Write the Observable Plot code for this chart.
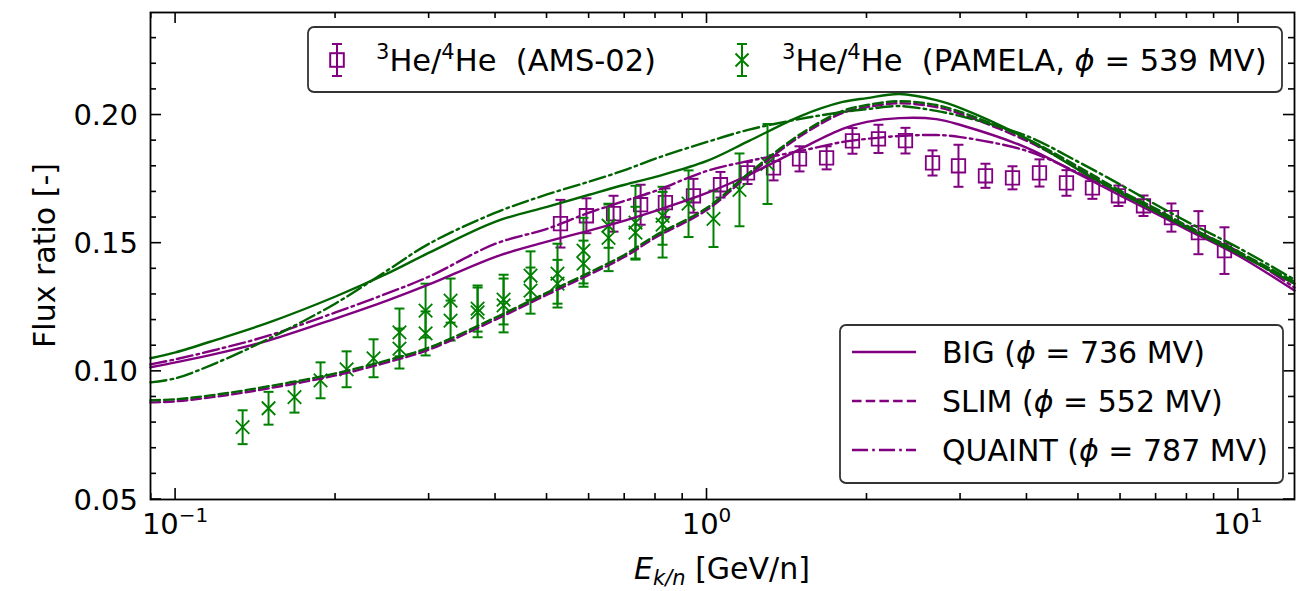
<!DOCTYPE html>
<html><head><meta charset="utf-8">
<script src="https://cdn.jsdelivr.net/npm/d3@7"></script>
<script src="https://cdn.jsdelivr.net/npm/@observablehq/plot@0.6"></script>
<style>body{margin:0;background:#fff} svg{display:block}</style>
</head><body><div id="chart"></div>
<script>
// ---- data ----
const amsE = [0.530, 0.593, 0.667, 0.750, 0.835, 0.943, 1.060, 1.192, 1.334, 1.493, 1.679, 1.878, 2.102, 2.363, 2.657, 2.973, 3.342, 3.757, 4.223, 4.747, 5.312, 5.946, 6.627, 7.481, 8.408, 9.413];
const amsR = [0.1576, 0.1607, 0.1615, 0.1650, 0.1658, 0.1685, 0.1728, 0.1774, 0.1794, 0.1829, 0.1833, 0.1899, 0.1907, 0.1900, 0.1813, 0.1802, 0.1763, 0.1755, 0.1774, 0.1735, 0.1716, 0.1685, 0.1646, 0.1600, 0.1541, 0.1471];
const amsErr = [0.0093, 0.0068, 0.0070, 0.0078, 0.0056, 0.0066, 0.0050, 0.0043, 0.0049, 0.0049, 0.0045, 0.0050, 0.0055, 0.0050, 0.0049, 0.0082, 0.0047, 0.0045, 0.0053, 0.0050, 0.0043, 0.0040, 0.0040, 0.0055, 0.0084, 0.0091];

const pamE = [0.1337,0.1496,0.1674,0.1874,0.2098,0.2358,0.2638,0.2638,0.2954,0.2954,0.3292,0.3292,0.3701,0.3701,0.4142,0.4142,0.4655,0.4655,0.5232,0.5232,0.5856,0.5856,0.6528,0.6528,0.7335,0.7335,0.8249,0.8249,0.9231,1.0285,1.1511,1.2997];
const pamR = [0.0782,0.0856,0.0899,0.0965,0.1008,0.1051,0.1152,0.1089,0.1237,0.1148,0.1276,0.1198,0.1245,0.1230,0.1280,0.1257,0.1373,0.1315,0.1381,0.1342,0.1471,0.1420,0.1568,0.1521,0.1580,0.1541,0.1607,0.1572,0.1654,0.1595,0.1708,0.1809];
const pamErr = [0.0066,0.0064,0.0060,0.0070,0.0070,0.0074,0.0093,0.0078,0.0105,0.0086,0.0086,0.0078,0.0090,0.0097,0.0097,0.0105,0.0095,0.0090,0.0117,0.0093,0.0128,0.0090,0.0086,0.0130,0.0144,0.0101,0.0113,0.0128,0.0130,0.0110,0.0142,0.0156];

const modelE = [0.0897,0.1,0.12,0.15,0.2,0.25,0.3,0.4,0.5,0.6,0.7,0.8,1.0,1.2,1.5,1.8,2.0,2.3,2.7,3.0,4.0,5.0,6.0,7.0,8.0,10,12.75];
const bigAms    = [0.1016,0.1035,0.1070,0.1121,0.1206,0.1276,0.1339,0.1447,0.1506,0.1549,0.1588,0.1626,0.1696,0.1767,0.1868,0.1946,0.1973,0.1988,0.1984,0.1961,0.1872,0.1770,0.1685,0.1615,0.1553,0.1451,0.1315];
const slimAms   = [0.0879,0.0883,0.0902,0.0934,0.0984,0.1035,0.1085,0.1202,0.1299,0.1377,0.1447,0.1522,0.1630,0.1766,0.1918,0.2008,0.2031,0.2046,0.2031,0.2004,0.1899,0.1790,0.1696,0.1626,0.1560,0.1459,0.1342];
const quaintAms = [0.1027,0.1047,0.1086,0.1140,0.1230,0.1304,0.1370,0.1498,0.1556,0.1619,0.1665,0.1704,0.1782,0.1821,0.1860,0.1895,0.1907,0.1918,0.1922,0.1914,0.1860,0.1774,0.1696,0.1626,0.1564,0.1467,0.1327];
const bigPam    = [0.1051,0.1074,0.1125,0.1191,0.1292,0.1381,0.1463,0.1584,0.1642,0.1689,0.1728,0.1759,0.1821,0.1899,0.1996,0.2051,0.2066,0.2082,0.2058,0.2027,0.1907,0.1786,0.1696,0.1623,0.1560,0.1459,0.1342];
const slimPam   = [0.0887,0.0891,0.0910,0.0942,0.0992,0.1043,0.1093,0.1210,0.1307,0.1385,0.1455,0.1530,0.1638,0.1774,0.1926,0.2016,0.2039,0.2054,0.2039,0.2012,0.1907,0.1798,0.1704,0.1634,0.1568,0.1467,0.1350];
const quaintPam = [0.0957,0.0973,0.1035,0.1128,0.1265,0.1393,0.1498,0.1619,0.1690,0.1740,0.1785,0.1830,0.1895,0.1943,0.1985,0.2012,0.2023,0.2035,0.2016,0.1996,0.1918,0.1817,0.1728,0.1650,0.1584,0.1482,0.1358];

const yTicks = [0.05, 0.10, 0.15, 0.20];
const yTickLabels = ["0.05", "0.10", "0.15", "0.20"];
const xTicks = [0.1, 1, 10];
const xTickExp = ["\u22121", "0", "1"];
const legendData = ["AMS-02", "PAMELA, "];
const modelNames = ["BIG", "SLIM", "QUAINT"];
const modelPhi = ["736", "552", "787"];

// ---- styles ----
const PURPLE = "#800080", GREEN = "#008000", DKGREEN = "#006400";
const DASH = "9.5,4.2", DASHDOT = "16,4.2,2.6,4.2";
const LW = 2.4;
const FONT = "DejaVu Sans";

const ams = amsE.map((E, i) => ({E, r: amsR[i], e: amsErr[i]}));
const pam = pamE.map((E, i) => ({E, r: pamR[i], e: pamErr[i]}));
const rows = v => modelE.map((E, i) => ({E, r: v[i]}));
const cap = {draw(ctx, size) { const w = Math.sqrt(size / Math.PI); ctx.moveTo(-w, 0); ctx.lineTo(w, 0); }};

function errMarks(data, color, symbol, r) {
  return [
    Plot.ruleX(data, {x: "E", y1: d => d.r - d.e, y2: d => d.r + d.e, stroke: color, strokeWidth: 2}),
    Plot.dot(data, {x: "E", y: d => d.r + d.e, symbol: cap, r: 5, stroke: color, strokeWidth: 2, fill: "none"}),
    Plot.dot(data, {x: "E", y: d => d.r - d.e, symbol: cap, r: 5, stroke: color, strokeWidth: 2, fill: "none"}),
    Plot.dot(data, {x: "E", y: "r", symbol, r, stroke: color, strokeWidth: 1.8, fill: "none"})
  ];
}
const ln = (v, color, dash) => Plot.line(rows(v), {x: "E", y: "r", stroke: color, strokeWidth: LW, strokeDasharray: dash, curve: "catmull-rom"});

const plot = Plot.plot({
  width: 1306, height: 591,
  marginLeft: 150, marginRight: 12, marginTop: 12, marginBottom: 92,
  x: {type: "log", domain: [0.0897, 12.75], axis: null},
  y: {domain: [0.05, 0.24], axis: null},
  marks: [
    ...errMarks(ams, PURPLE, "square", 7.6),
    ...errMarks(pam, GREEN, "times", 6.2),
    ln(bigAms, PURPLE, null),
    ln(slimAms, PURPLE, DASH),
    ln(quaintAms, PURPLE, DASHDOT),
    ln(bigPam, DKGREEN, null),
    ln(slimPam, DKGREEN, DASH),
    ln(quaintPam, DKGREEN, DASHDOT),
    Plot.frame({stroke: "black", strokeWidth: 1.8})
  ]
});
document.getElementById("chart").appendChild(plot);

// ---- axes, ticks, labels, legends ----
const sx = plot.scale("x"), sy = plot.scale("y");
const X = v => sx.apply(v), Y = v => sy.apply(v);
const [x0, x1] = sx.range, [y0, y1] = sy.range; // y0 bottom, y1 top
const svg = d3.select(plot);
const g = svg.append("g").attr("stroke", "black").attr("stroke-width", 1.6);
const tick = (xa, ya, xb, yb) => g.append("line").attr("x1", xa).attr("y1", ya).attr("x2", xb).attr("y2", yb);
const MAJ = 11, MIN = 6;
for (let k = 5; k <= 23; k++) {
  const v = k / 100, len = (k % 5 === 0) ? MAJ : MIN, yy = Y(v);
  tick(x0, yy, x0 + len, yy); tick(x1, yy, x1 - len, yy);
}
for (const dec of [0.01, 0.1, 1, 10]) {
  for (let m = 1; m <= 9; m++) {
    const v = dec * m;
    if (v < 0.0897 || v > 12.75) continue;
    const len = m === 1 ? MAJ : MIN, xx = X(v);
    tick(xx, y0, xx, y0 - len); tick(xx, y1, xx, y1 + len);
  }
}
const txt = (x, y) => svg.append("text").attr("x", x).attr("y", y).attr("text-anchor", "start")
  .attr("font-family", FONT).attr("font-size", 29).attr("fill", "black").style("white-space", "pre");
yTicks.forEach((v, i) => txt(x0 - 12, Y(v) + 10.5).attr("text-anchor", "end").text(yTickLabels[i]));
xTicks.forEach((v, i) => {
  const t = txt(X(v), 534).attr("text-anchor", "middle");
  t.append("tspan").text("10");
  t.append("tspan").attr("font-size", 20).attr("dy", -12).text(xTickExp[i]);
});
svg.append("text").attr("transform", `translate(55,${(y0 + y1) / 2}) rotate(-90)`).attr("text-anchor", "middle")
  .attr("font-family", FONT).attr("font-size", 30).text("Flux ratio [-]");
{
  const t = txt((x0 + x1) / 2, 579).attr("text-anchor", "middle").attr("font-size", 30);
  t.append("tspan").attr("font-style", "italic").text("E");
  t.append("tspan").attr("font-style", "italic").attr("font-size", 21).attr("dy", 6).text("k/n");
  t.append("tspan").attr("dy", -6).text(" [GeV/n]");
}
// legend 1 (data)
svg.append("rect").attr("x", 308).attr("y", 27).attr("width", 974).attr("height", 65).attr("rx", 6)
  .attr("fill", "white").attr("fill-opacity", 0.85).attr("stroke", "#333").attr("stroke-width", 1.8);
function legMarker(cx, cy, color, kind) {
  const lg = svg.append("g").attr("stroke", color).attr("stroke-width", 2).attr("fill", "none");
  lg.append("line").attr("x1", cx).attr("x2", cx).attr("y1", cy - 16).attr("y2", cy + 16);
  lg.append("line").attr("x1", cx - 5).attr("x2", cx + 5).attr("y1", cy - 16).attr("y2", cy - 16);
  lg.append("line").attr("x1", cx - 5).attr("x2", cx + 5).attr("y1", cy + 16).attr("y2", cy + 16);
  if (kind === "square") lg.append("rect").attr("x", cx - 6.8).attr("y", cy - 6.8).attr("width", 13.6).attr("height", 13.6);
  else lg.append("path").attr("d", `M${cx-6.5},${cy-6.5}L${cx+6.5},${cy+6.5}M${cx-6.5},${cy+6.5}L${cx+6.5},${cy-6.5}`);
}
function heLabel(x, y, rest, phi) {
  const t = txt(x, y).attr("font-size", 30.5);
  t.append("tspan").attr("font-size", 21).attr("dy", -12).text("3");
  t.append("tspan").attr("dy", 12).text("He/");
  t.append("tspan").attr("font-size", 21).attr("dy", -12).text("4");
  t.append("tspan").attr("dy", 12).text("He  (" + rest);
  if (phi) {
    t.append("tspan").attr("font-style", "italic").text("\u03d5");
    t.append("tspan").text(" = " + phi + " MV)");
  } else t.append("tspan").text(")");
}
legMarker(337, 60, PURPLE, "square");
heLabel(376, 71, legendData[0], null);
legMarker(742, 60, GREEN, "times");
heLabel(782, 71, legendData[1], "539");
// legend 2 (models)
svg.append("rect").attr("x", 840).attr("y", 325).attr("width", 443).attr("height", 158).attr("rx", 6)
  .attr("fill", "white").attr("fill-opacity", 0.85).attr("stroke", "#333").attr("stroke-width", 1.8);
[null, DASH, DASHDOT].forEach((dash, i) => {
  const cy = 352 + i * 49;
  svg.append("line").attr("x1", 852).attr("x2", 916).attr("y1", cy).attr("y2", cy)
    .attr("stroke", PURPLE).attr("stroke-width", LW).attr("stroke-dasharray", dash);
  const t = txt(942, cy + 11).attr("font-size", 30);
  t.append("tspan").text(modelNames[i] + " (");
  t.append("tspan").attr("font-style", "italic").text("\u03d5");
  t.append("tspan").text(" = " + modelPhi[i] + " MV)");
});
</script></body></html>
